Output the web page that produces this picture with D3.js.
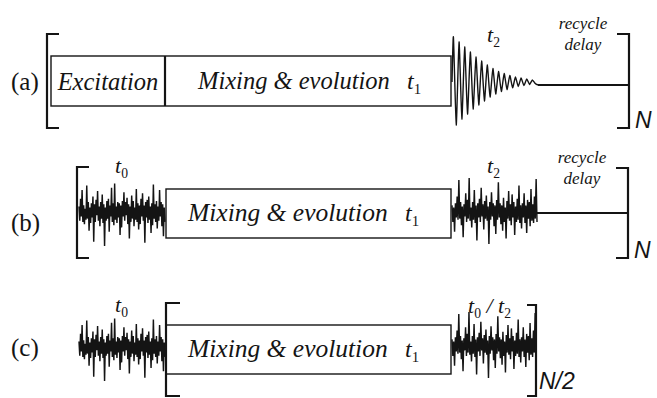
<!DOCTYPE html>
<html>
<head>
<meta charset="utf-8">
<script src="https://cdn.jsdelivr.net/npm/d3@7"></script>
<style>
  body { margin: 0; background: #fff; }
  svg { display: block; }
</style>
</head>
<body>
<svg id="chart" width="657" height="398"></svg>
<script>
// --- data ---
const panelLabels = ['(a)', '(b)', '(c)'];
const blockLabels = ['Excitation', 'Mixing & evolution'];
const delayLabel = ['recycle', 'delay'];
const repeatLabels = ['N', 'N', 'N/2'];

// half-cycle peak heights of the FID in (a), px above/below the baseline
const fidEnvelope = [45, 43, 40, 37, 35, 32, 30, 27, 25, 23, 21, 19, 17, 15, 13.5,
  12, 10.5, 9.5, 8.5, 7.5, 6.5, 5.8, 5, 4.5, 4, 3.5, 3, 2.5, 2, 1.5];

// noise traces (px, up is positive), t0 block and t2 block
const noiseT0 = [5, -8, 12, -4, 20, -9, 6, -11, 3, -7, 24, -6, 9, -17, 4, -10, 8, -5, 14, -27,
  7, -9, 11, -3, 19, -8, 5, -13, 9, -6, 16, -10, 7, -31, 4, -8, 10, -6, 12, -18,
  6, -4, 22, -9, 8, -12, 26, -7, 5, -10, 9, -5, 8, -21, 6, -14, 10, -4, 18, -8,
  9, -3, 13, -11, 7, -24, 5, -9, 15, -6, 10, -13, 4, -7, 21, -9, 8, -16, 6, -11,
  12, -4, 17, -8, 6, -28, 9, -5, 11, -10, 14, -7, 5, -19, 8, -12, 25, -6, 7, -9,
  10, -15, 5, -8, 20, -4, 9, -13, 7, -22, 4, -9];
const noiseT2 = [6, -9, 4, -18, 8, -5, 14, -7, 29, -6, 9, -12, 5, -23, 7, -4, 17, -9, 11, -6,
  31, -8, 4, -14, 9, -7, 20, -10, 6, -26, 8, -5, 12, -9, 22, -4, 7, -16, 10, -6,
  15, -8, 5, -29, 9, -7, 18, -4, 8, -13, 6, -20, 11, -7, 27, -5, 8, -11, 6, -17,
  13, -9, 4, -24, 10, -6, 19, -8, 7, -12, 16, -5, 9, -21, 5, -9, 12, -7, 24, -10,
  6, -15, 8, -5, 17, -10, 6, -19, 11, -6, 9, -13, 21, -8, 7, -10, 14, -6, 30, -9];

// --- drawing ---
const serif = '"Liberation Serif", "Times New Roman", serif';
const sans = '"Liberation Sans", Arial, sans-serif';
const ink = '#141414';
const svg = d3.select('#chart');

function box(x0, x1, y0, y1) {
  svg.append('rect')
    .attr('x', x0).attr('y', y0)
    .attr('width', x1 - x0).attr('height', y1 - y0)
    .attr('fill', 'none').attr('stroke', ink).attr('stroke-width', 1.4);
}

// dir = 1 opens right, -1 opens left
function bracket(x, y0, y1, dir, serifLen) {
  const p = d3.path();
  p.moveTo(x + dir * serifLen, y0);
  p.lineTo(x, y0);
  p.lineTo(x, y1);
  p.lineTo(x + dir * serifLen, y1);
  svg.append('path').attr('d', p.toString())
    .attr('fill', 'none').attr('stroke', ink).attr('stroke-width', 2.2);
}

function noise(values, x0, x1, cy) {
  const x = d3.scaleLinear().domain([0, values.length - 1]).range([x0, x1]);
  const y = d3.scaleLinear().domain([-40, 40]).range([cy + 44, cy - 44]);
  svg.append('path')
    .datum(values)
    .attr('fill', 'none').attr('stroke', ink).attr('stroke-width', 1.45)
    .attr('stroke-linejoin', 'bevel')
    .attr('d', d3.line().x((d, i) => x(i)).y((d) => y(d)));
}

function fid(env, x0, x1, cy, yEnd) {
  const x = d3.scaleLinear().domain([-0.5, env.length]).range([x0, x1]);
  const y = d3.scaleLinear().domain([-50, 50]).range([cy + 50, cy - 50]);
  const pts = [[x(-0.5), y(0)]];
  env.forEach((a, i) => pts.push([x(i), y(i % 2 === 0 ? a : -a)]));
  pts.push([x(env.length), yEnd]);
  svg.append('path')
    .datum(pts)
    .attr('fill', 'none').attr('stroke', ink).attr('stroke-width', 1.4)
    .attr('d', d3.line().curve(d3.curveCardinal.tension(0.5)));
}

function hline(x0, x1, y) {
  svg.append('line').attr('x1', x0).attr('x2', x1).attr('y1', y).attr('y2', y)
    .attr('stroke', ink).attr('stroke-width', 2);
}

function text(str, x, y, size, opts = {}) {
  return svg.append('text')
    .attr('x', x).attr('y', y)
    .attr('font-family', opts.family || serif)
    .attr('font-size', size)
    .attr('font-style', opts.italic ? 'italic' : 'normal')
    .attr('text-anchor', opts.anchor || 'start')
    .attr('fill', ink)
    .text(str);
}

// italic t with upright subscripts, joined with " / "
function tLabel(subs, x, y, size) {
  const t = svg.append('text').attr('x', x).attr('y', y)
    .attr('font-family', serif).attr('font-size', size).attr('fill', ink);
  const shift = size * 0.22;
  subs.forEach((s, i) => {
    if (i > 0) t.append('tspan').attr('font-style', 'italic').attr('dy', -shift).text(' / ');
    t.append('tspan').attr('font-style', 'italic').text('t');
    t.append('tspan').attr('font-size', size * 0.62).attr('dy', shift).text(s);
  });
}

// panel (a)
text(panelLabels[0], 11, 90, 25);
bracket(47, 34, 128, 1, 12);
box(51, 451, 56, 106);
svg.append('line').attr('x1', 165).attr('x2', 165).attr('y1', 56).attr('y2', 106)
  .attr('stroke', ink).attr('stroke-width', 2.2);
text(blockLabels[0], 108, 90, 24.5, { italic: true, anchor: 'middle' });
text(blockLabels[1], 198, 89, 24.5, { italic: true });
tLabel(['1'], 407, 89, 24);
fid(fidEnvelope, 452, 538, 82, 85);
hline(538, 629, 85);
bracket(629, 34, 128, -1, 12);
text(repeatLabels[0], 635, 128, 23, { family: sans, italic: true });
tLabel(['2'], 487, 42, 22);
text(delayLabel[0], 583, 29, 17, { italic: true, anchor: 'middle' });
text(delayLabel[1], 583, 50, 17, { italic: true, anchor: 'middle' });

// panel (b)
text(panelLabels[1], 11, 231, 25);
bracket(77, 167, 258, 1, 12);
noise(noiseT0, 79, 165, 212);
box(166, 451, 189, 238);
text(blockLabels[1], 188, 221, 25.5, { italic: true });
tLabel(['1'], 405, 221, 24);
noise(noiseT2, 452, 537, 212);
hline(537, 628, 213);
bracket(628, 168, 258, -1, 12);
text(repeatLabels[1], 634, 258, 23, { family: sans, italic: true });
tLabel(['0'], 115, 173, 22);
tLabel(['2'], 487, 173, 22);
text(delayLabel[0], 582, 163, 17, { italic: true, anchor: 'middle' });
text(delayLabel[1], 582, 184, 17, { italic: true, anchor: 'middle' });

// panel (c)
text(panelLabels[2], 11, 356, 25);
noise(noiseT0, 79, 165, 347);
box(166, 451, 325, 374);
bracket(166, 303, 396, 1, 14);
text(blockLabels[1], 188, 357, 25.5, { italic: true });
tLabel(['1'], 405, 357, 24);
noise(noiseT2, 452, 536, 346);
bracket(536, 305, 396, -1, 9);
text(repeatLabels[2], 539, 389, 23, { family: sans, italic: true });
tLabel(['0'], 115, 312, 22);
tLabel(['0', '2'], 468, 313, 22);
</script>
</body>
</html>
